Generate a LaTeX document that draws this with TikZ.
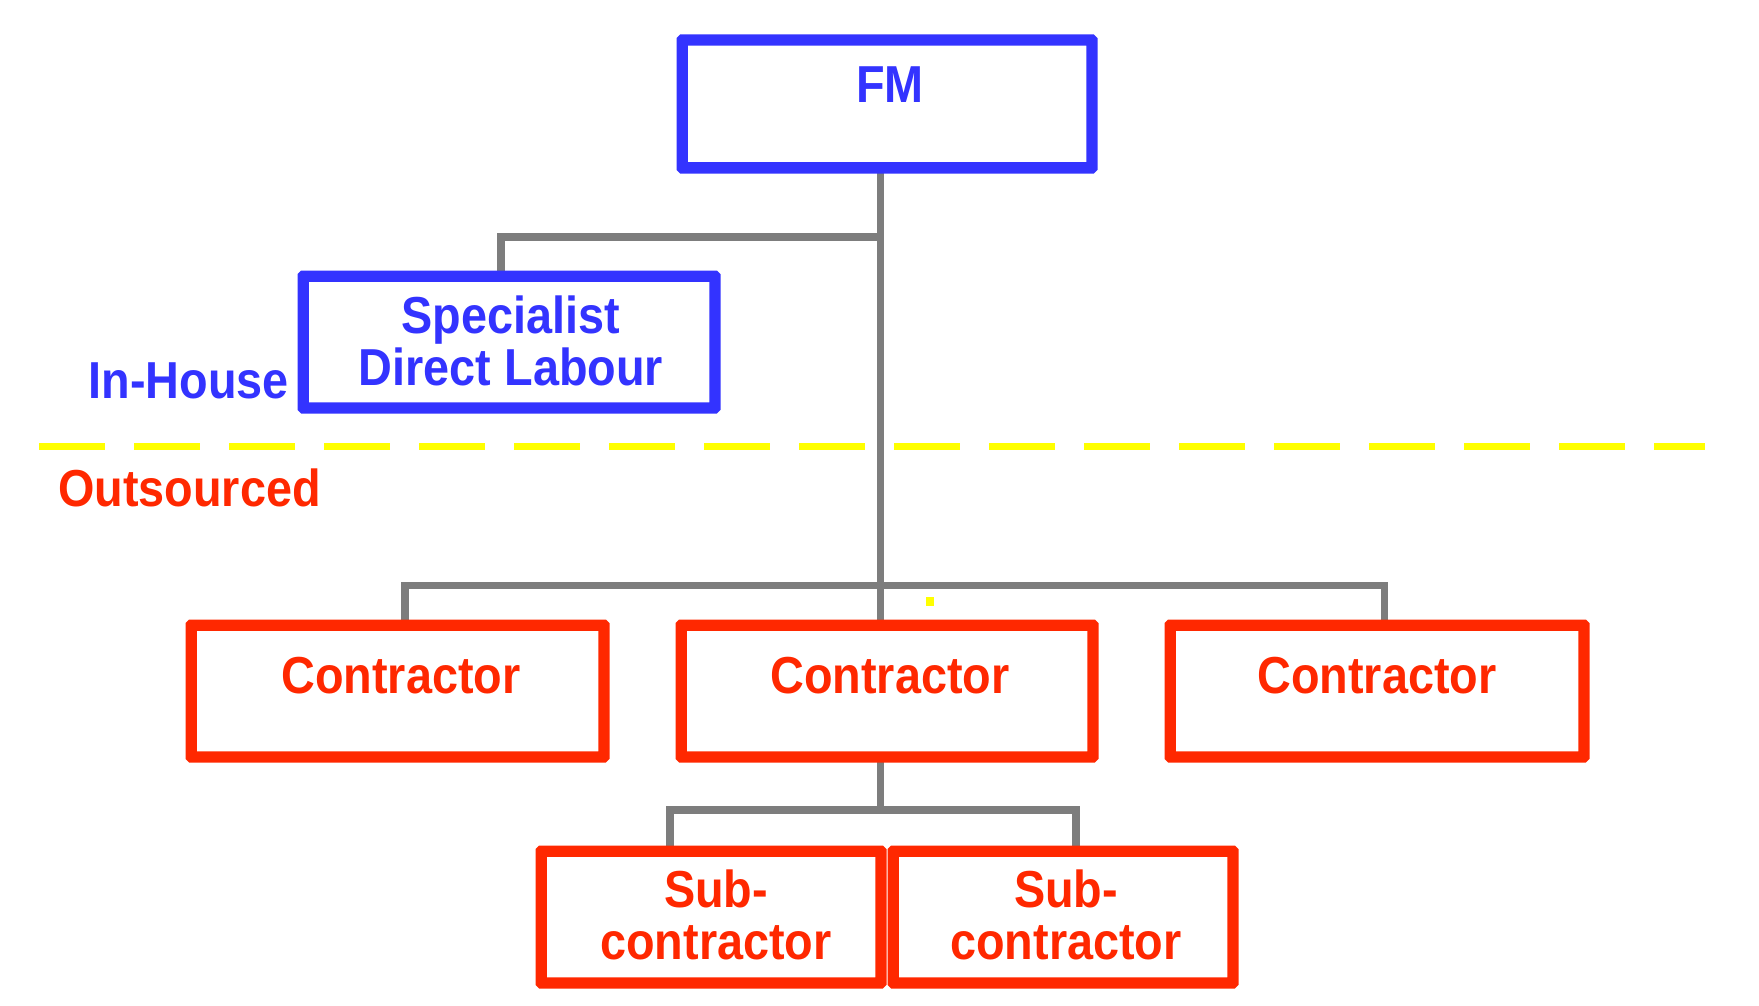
\documentclass[tikz,border=0pt]{standalone}
\usepackage{fontspec}
\setmainfont[FakeStretch=0.9]{Liberation Sans}
\definecolor{bblue}{RGB}{51,51,255}
\definecolor{rred}{RGB}{255,40,0}
\definecolor{lgray}{RGB}{125,125,125}
\definecolor{yel}{RGB}{255,255,0}
\begin{document}
\begin{tikzpicture}[x=1pt,y=-1pt,
  box/.style={draw,line width=7.5pt,rounded corners=1.5pt,inner sep=0pt,fill=white},
  bluebox/.style={box,draw=bblue},
  redbox/.style={box,draw=rred},
  lbl/.style={font=\fontsize{52}{52}\selectfont\bfseries,inner sep=0pt,align=center,anchor=base},
  bluetxt/.style={lbl,text=bblue},
  redtxt/.style={lbl,text=rred},
  conn/.style={draw=lgray,line width=7.5pt}]
\useasboundingbox (0,0) rectangle (1759,1006);
% boxes
\node[bluebox,minimum width=406pt,minimum height=124pt] (fm) at (887,104) {};
\node[bluebox,minimum width=408pt,minimum height=128pt] (spec) at (509,342) {};
\node[redbox,minimum width=409pt,minimum height=128pt] (c1) at (397.5,691) {};
\node[redbox,minimum width=408pt,minimum height=128pt] (c2) at (887,691) {};
\node[redbox,minimum width=410pt,minimum height=128pt] (c3) at (1377,691) {};
\node[redbox,minimum width=336pt,minimum height=128pt] (s1) at (711,917) {};
\node[redbox,minimum width=336pt,minimum height=128pt] (s2) at (1063,917) {};
% connector helper coordinates
\coordinate (tx) at (880.6,0);
\coordinate (bspec) at (0,237);
\coordinate (sx) at (501,0);
\coordinate (bcon) at (0,585.5);
\coordinate (c1x) at (405,0);
\coordinate (c3x) at (1384.5,0);
\coordinate (bsub) at (0,810);
\coordinate (s1x) at (670,0);
\coordinate (s2x) at (1076,0);
% connectors
\draw[conn] (fm.south -| tx) -- (c2.north -| tx);
\draw[conn] (bspec -| tx) -| (spec.north -| sx);
\draw[conn] (c1.north -| c1x) |- (bcon -| tx);
\draw[conn] (bcon -| tx) -| (c3.north -| c3x);
\draw[conn] (c2.south -| tx) -- (bsub -| tx);
\draw[conn] (s1.north -| s1x) |- (bsub -| tx) -| (s2.north -| s2x);
% redraw box borders over connector ends
\foreach \n/\c in {fm/bblue,spec/bblue,c1/rred,c2/rred,c3/rred,s1/rred,s2/rred}{
  \draw[line width=7.5pt,draw=\c,rounded corners=1.5pt] (\n.north west) rectangle (\n.south east);
}
% dashed divider
\coordinate (dl) at (39,446.5);
\coordinate (dr) at (1705,446.5);
\draw[draw=yel,line width=7pt,dash pattern=on 66pt off 29pt] (dl) -- (dr);
\fill[yel] (926,597) rectangle (934,606);
% labels
\node[bluetxt] (tfm) at (890,103) {FM};
\node[bluetxt] (tspec) at (511,385) {Specialist\\Direct Labour};
\node[bluetxt,anchor=base east] (tin) at (289,398) {In-House};
\node[redtxt,anchor=base west] (tout) at (58,506) {Outsourced};
\node[redtxt] (tc1) at (401,693) {Contractor};
\node[redtxt] (tc2) at (890,693) {Contractor};
\node[redtxt] (tc3) at (1377,693) {Contractor};
\node[redtxt] (ts1) at (716,959) {Sub-\\contractor};
\node[redtxt] (ts2) at (1066,959) {Sub-\\contractor};
\end{tikzpicture}
\end{document}
